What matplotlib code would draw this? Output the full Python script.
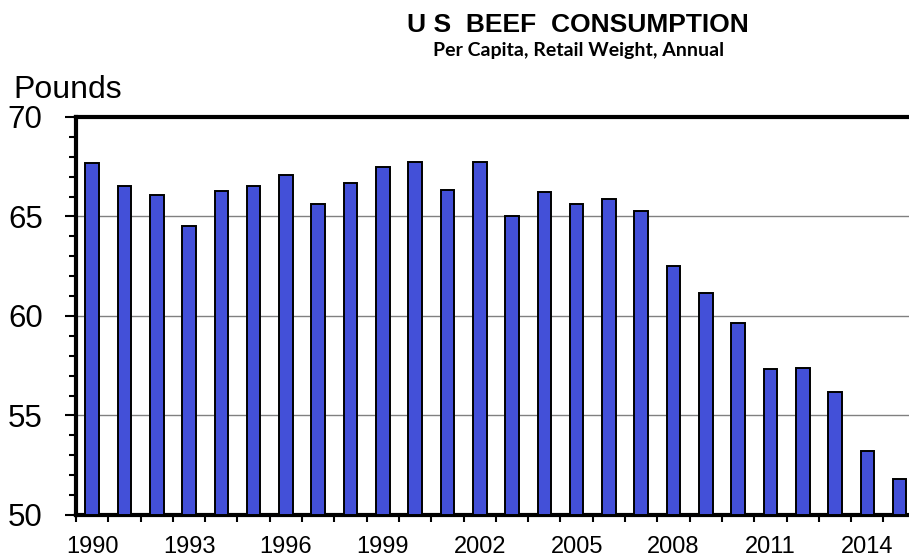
import matplotlib
matplotlib.use("Agg")
import matplotlib.pyplot as plt
from matplotlib.ticker import MultipleLocator, FixedLocator

# Per capita beef consumption, retail weight (lbs)
years = list(range(1990, 2016))
pounds = [67.70, 66.55, 66.08, 64.54, 66.30, 66.55, 67.10, 65.64, 66.67, 67.50,
          67.76, 66.33, 67.76, 65.03, 66.21, 65.61, 65.88, 65.28, 62.51, 61.14,
          59.63, 57.34, 57.40, 56.20, 53.23, 51.81]
label_years = [y for y in years if (y - 1990) % 3 == 0]

plt.rcParams['font.family'] = ['Liberation Sans', 'DejaVu Sans']

W, H = 909, 559
fig = plt.figure(figsize=(W / 100, H / 100), dpi=100)
ax = fig.add_axes([76 / W, 1 - 515 / H, 1 - 76 / W, (515 - 117) / H])

x = list(range(len(years)))
ax.bar(x, [p - 50 for p in pounds], bottom=50, width=0.42, color='#4350D8',
       edgecolor='black', linewidth=1.4, zorder=3)

ax.set_ylim(50, 70)
ax.set_xlim(-0.5, 25.29)

# gridlines at 55, 60, 65
for yv in [55, 60, 65]:
    ax.axhline(yv, color='#808080', linewidth=1.0, zorder=1)

ax.yaxis.set_major_locator(MultipleLocator(5))
ax.yaxis.set_minor_locator(MultipleLocator(1))
ax.tick_params(axis='y', which='major', direction='out', length=8, width=1.5,
               labelsize=22.5, pad=16)
ax.tick_params(axis='y', which='minor', direction='out', length=5, width=1.5)

ax.set_xticks([years.index(y) for y in label_years])
ax.set_xticklabels([str(y) for y in label_years])
ax.xaxis.set_minor_locator(FixedLocator([i - 0.5 for i in range(len(years) + 1)]))
ax.tick_params(axis='x', which='major', length=0, labelsize=17, pad=15)
ax.tick_params(axis='x', which='minor', direction='out', length=5, width=1.5)

for side in ['left', 'bottom', 'top']:
    ax.spines[side].set_linewidth(3)
ax.spines['right'].set_visible(False)

fig.text(13 / W, 1 - 98 / H, "Pounds", fontsize=23, ha='left', va='baseline')
title = fig.text(578 / W, 1 - 32 / H, "U S  BEEF  CONSUMPTION", fontsize=18,
                 fontweight='bold', ha='center', va='baseline')
subtitle = fig.text(579 / W, 1 - 56 / H, "Per Capita, Retail Weight, Annual",
                    fontsize=14, fontweight='bold', ha='center', va='baseline',
                    family=['Lato', 'DejaVu Sans'])

# scale title fonts to the reference text widths
renderer = fig.canvas.get_renderer()
for t, target in [(title, 341), (subtitle, 292)]:
    w = t.get_window_extent(renderer).width
    t.set_fontsize(t.get_fontsize() * target / w)

fig.savefig("out.png", dpi=100)
